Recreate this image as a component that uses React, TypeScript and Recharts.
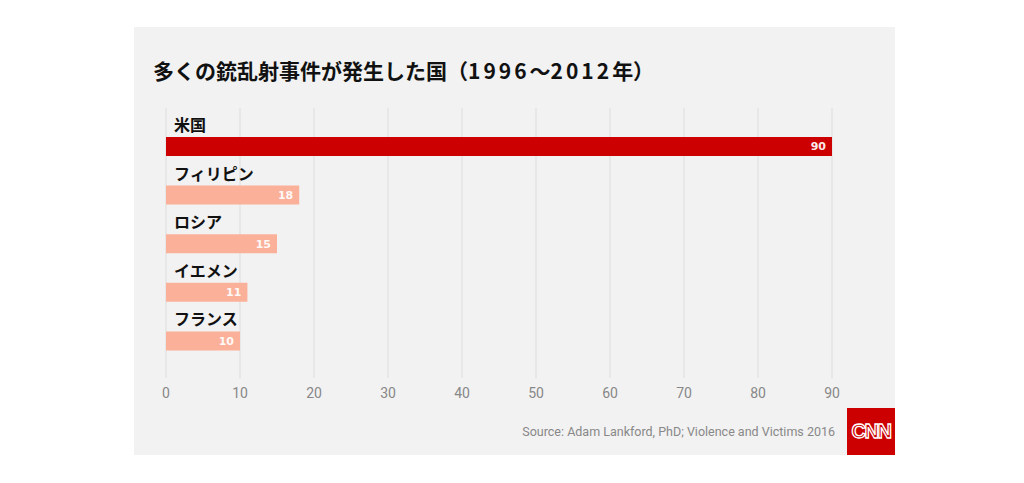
import { Bar, BarChart, CartesianGrid, Cell, LabelList, XAxis, YAxis } from 'recharts';

const countries = ['米国', 'フィリピン', 'ロシア', 'イエメン', 'フランス'];
const incidents = [90, 18, 15, 11, 10];
const xTicks = [0, 10, 20, 30, 40, 50, 60, 70, 80, 90];

const RED = '#cc0000';
const SALMON = '#fbb09a';

const chartData = countries.map((name, i) => ({ name, value: incidents[i] }));

function NameLabel(props: any) {
  const { x, y, value } = props;
  return (
    <text
      x={x + 8}
      y={y - 6}
      fill="#111"
      fontSize={16}
      fontWeight={700}
      fontFamily="'Noto Sans CJK JP', sans-serif"
    >
      {value}
    </text>
  );
}

function ValueLabel(props: any) {
  const { x, y, width, height, value } = props;
  return (
    <text
      x={x + width - 6}
      y={y + height / 2}
      dy="0.36em"
      textAnchor="end"
      fill="#fff"
      fontSize={11}
      fontWeight={700}
      fontFamily="'DejaVu Sans', sans-serif"
      opacity={0.92}
    >
      {value}
    </text>
  );
}

export default function App() {
  return (
    <div style={{ position: 'absolute', left: 0, top: 0, width: 1024, height: 483, background: '#fff' }}>
      <div style={{ position: 'absolute', left: 134, top: 27, width: 761, height: 428, background: '#f2f2f2' }}>
        <div
          style={{
            position: 'absolute',
            left: 19,
            top: 28,
            fontSize: 21,
            fontWeight: 700,
            color: '#111',
            fontFamily: "'Noto Sans CJK JP', sans-serif",
            whiteSpace: 'nowrap',
          }}
        >
          多くの銃乱射事件が発生した国（
          <span style={{ letterSpacing: 3 }}>1996</span>〜
          <span style={{ letterSpacing: 3 }}>2012</span>年）
        </div>
        <BarChart
          width={761}
          height={428}
          data={chartData}
          layout="vertical"
          margin={{ top: 81, right: 63, bottom: 47, left: 32 }}
          barSize={19}
        >
          <CartesianGrid horizontal={false} stroke="#dcdcdc" />
          <XAxis
            type="number"
            domain={[0, 90]}
            ticks={xTicks}
            axisLine={false}
            tickLine={false}
            tickMargin={4}
            height={30}
            tick={{ fill: '#888', fontSize: 14, fontFamily: 'Roboto, sans-serif' }}
          />
          <YAxis type="category" dataKey="name" hide padding={{ top: 14, bottom: 13 }} />
          <Bar dataKey="value" isAnimationActive={false}>
            {chartData.map((d, i) => (
              <Cell key={d.name} fill={i === 0 ? RED : SALMON} />
            ))}
            <LabelList dataKey="name" content={NameLabel} />
            <LabelList dataKey="value" content={ValueLabel} />
          </Bar>
        </BarChart>
        <div
          style={{
            position: 'absolute',
            right: 60,
            top: 397,
            fontSize: 12.5,
            color: '#888',
            fontFamily: 'Roboto, sans-serif',
            whiteSpace: 'nowrap',
          }}
        >
          Source: Adam Lankford, PhD; Violence and Victims 2016
        </div>
        <div
          style={{
            position: 'absolute',
            right: 0,
            bottom: 0,
            width: 48,
            height: 47,
            background: RED,
            display: 'flex',
            alignItems: 'center',
            justifyContent: 'center',
            color: RED,
            fontSize: 20,
            fontWeight: 700,
            letterSpacing: -1.5,
            fontFamily: "'Liberation Sans', Arial, sans-serif",
            WebkitTextStroke: '1.3px #fff',
          }}
        >
          CNN
        </div>
      </div>
    </div>
  );
}
